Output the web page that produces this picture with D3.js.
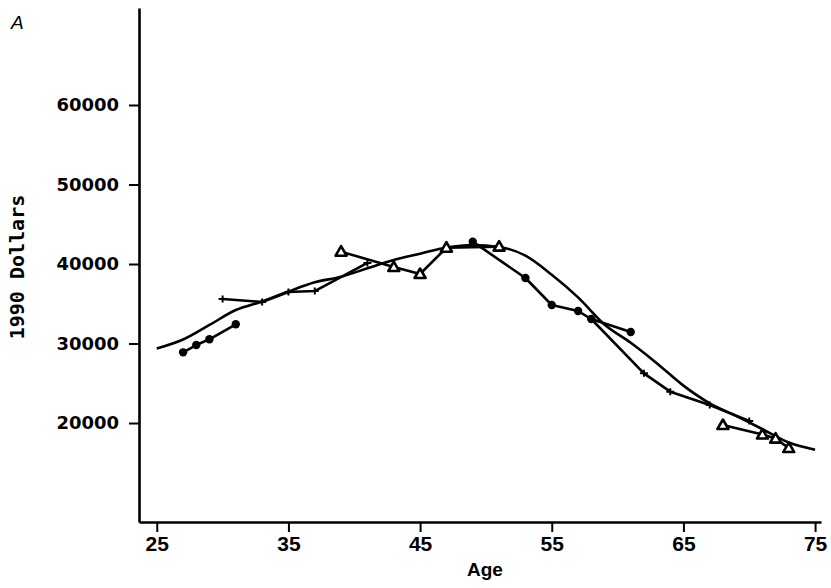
<!DOCTYPE html>
<html>
<head>
<meta charset="utf-8">
<script src="https://cdn.jsdelivr.net/npm/d3@7"></script>
<style>
  body { margin: 0; background: #fff; }
  svg { display: block; }
</style>
</head>
<body>
<div id="chart"></div>
<script>
// smooth age profile
const smoothAges = [25, 27, 29, 31, 33, 35, 37, 39, 41, 43, 45, 47, 49, 51, 53, 55, 57, 59, 61, 63, 65, 67, 69, 71, 73, 75];
const smoothVals = [29370, 30500, 32330, 34210, 35280, 36540, 37700, 38400, 39460, 40500, 41300, 42080, 42400, 42150, 41050, 38650, 35800, 32400, 30100, 27500, 24700, 22480, 20900, 19230, 17550, 16650];

// cohorts (dots)
const dotAges1 = [27, 28, 29, 31];
const dotVals1 = [28890, 29810, 30530, 32420];
const dotAges2 = [49, 53, 55, 57, 58, 61];
const dotVals2 = [42810, 38240, 34840, 34090, 33080, 31450];

// cohorts (plus)
const plusAges1 = [30, 33, 35, 37, 41];
const plusVals1 = [35600, 35220, 36480, 36600, 40130];
const plusAges2 = [58, 62, 64, 67, 70];
const plusVals2 = [33080, 26250, 23940, 22260, 20250];

// cohorts (triangles)
const triAges1 = [39, 43, 45, 47, 51];
const triVals1 = [41550, 39620, 38740, 42050, 42180];
const triAges2 = [68, 71, 72, 73];
const triVals2 = [19750, 18550, 18040, 16850];

const xTicks = [25, 35, 45, 55, 65, 75];
const yTicks = [20000, 30000, 40000, 50000, 60000];

const width = 831, height = 588;

const svg = d3.select("#chart")
    .append("svg")
    .attr("width", width)
    .attr("height", height);

const x = d3.scaleLinear().domain([23.65, 75.45]).range([139, 821]);
const y = d3.scaleLinear().domain([7550, 72200]).range([522, 8]);

const zip = (a, v) => a.map((d, i) => ({age: d, val: v[i]}));

// axes
const xAxis = svg.append("g")
    .attr("transform", `translate(0,${y.range()[0]})`)
    .call(d3.axisBottom(x).tickValues(xTicks).tickSize(10).tickPadding(4).tickSizeOuter(0));
xAxis.select(".domain").attr("stroke-width", 2.6);
xAxis.selectAll(".tick line").attr("stroke-width", 2);
xAxis.selectAll("text")
    .style("font-family", "'Liberation Sans', Arial, sans-serif")
    .style("font-weight", "bold")
    .style("font-size", "21px")
    .attr("fill", "#000");

const yAxis = svg.append("g")
    .attr("transform", `translate(${x.range()[0]},0)`)
    .call(d3.axisLeft(y).tickValues(yTicks).tickSize(10).tickPadding(10).tickSizeOuter(0).tickFormat(d3.format("d")));
yAxis.select(".domain").attr("stroke-width", 2.6);
yAxis.selectAll(".tick line").attr("stroke-width", 2);
yAxis.selectAll("text")
    .style("font-family", "'DejaVu Sans', sans-serif")
    .style("font-weight", "bold")
    .style("font-size", "18px")
    .attr("fill", "#000");

svg.append("text")
    .attr("x", 485)
    .attr("y", 576)
    .attr("text-anchor", "middle")
    .style("font-family", "'Liberation Sans', Arial, sans-serif")
    .style("font-weight", "bold")
    .style("font-size", "19px")
    .text("Age");

svg.append("text")
    .attr("transform", "translate(24,267) rotate(-90)")
    .attr("text-anchor", "middle")
    .style("font-family", "'DejaVu Sans Mono', monospace")
    .style("font-weight", "bold")
    .style("font-size", "20px")
    .text("1990 Dollars");

svg.append("text")
    .attr("x", 11)
    .attr("y", 29)
    .style("font-family", "'Liberation Sans', Arial, sans-serif")
    .style("font-style", "italic")
    .style("font-size", "19px")
    .text("A");

// lines
const line = d3.line().x(d => x(d.age)).y(d => y(d.val));
const smoothLine = d3.line().x(d => x(d.age)).y(d => y(d.val)).curve(d3.curveMonotoneX);

svg.append("path")
    .datum(zip(smoothAges, smoothVals))
    .attr("d", smoothLine)
    .attr("fill", "none")
    .attr("stroke", "#000")
    .attr("stroke-width", 2.6);

const cohorts = [
  {a: dotAges1, v: dotVals1, m: "dot"},
  {a: dotAges2, v: dotVals2, m: "dot"},
  {a: plusAges1, v: plusVals1, m: "plus"},
  {a: plusAges2, v: plusVals2, m: "plus"},
  {a: triAges1, v: triVals1, m: "tri"},
  {a: triAges2, v: triVals2, m: "tri"}
];

cohorts.forEach(c => {
  const pts = zip(c.a, c.v);
  svg.append("path")
      .datum(pts)
      .attr("d", line)
      .attr("fill", "none")
      .attr("stroke", "#000")
      .attr("stroke-width", 2.6)
      .attr("stroke-linejoin", "round");

  const g = svg.append("g");
  if (c.m == "dot") {
    g.selectAll("circle").data(pts).join("circle")
        .attr("cx", d => x(d.age))
        .attr("cy", d => y(d.val))
        .attr("r", 4.2)
        .attr("fill", "#000");
  } else if (c.m == "plus") {
    g.selectAll("path").data(pts).join("path")
        .attr("d", d => {
          const px = x(d.age), py = y(d.val);
          return `M${px-4},${py}H${px+4}M${px},${py-3.5}V${py+3.5}`;
        })
        .attr("stroke", "#000")
        .attr("stroke-width", 2);
  } else {
    g.selectAll("path").data(pts).join("path")
        .attr("transform", d => `translate(${x(d.age)},${y(d.val)})`)
        .attr("d", "M0,-5.5L5.5,4L-5.5,4Z")
        .attr("fill", "#fff")
        .attr("stroke", "#000")
        .attr("stroke-width", 2.6)
        .attr("stroke-linejoin", "round");
  }
});
</script>
</body>
</html>
